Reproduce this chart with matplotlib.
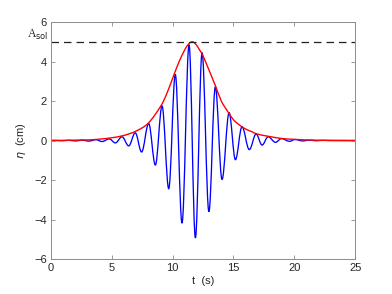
import matplotlib
matplotlib.use("Agg")
import matplotlib.pyplot as plt
from matplotlib.path import Path
from matplotlib.patches import PathPatch

# Blue free-surface signal: extrema (t in s, eta in cm)
wave_t = [0.0, 0.4, 0.9, 1.5, 2.0, 2.6, 3.1, 3.7, 4.2, 4.8, 5.29, 5.84, 6.39, 6.93,
          7.45, 8.03, 8.58, 9.13, 9.68, 10.22, 10.77, 11.35, 11.87, 12.42, 12.98,
          13.51, 14.06, 14.64, 15.16, 15.7, 16.3, 16.86, 17.35, 17.85, 18.45, 18.95,
          19.6, 20.05, 20.7, 21.2, 21.8, 22.3, 23.0, 25.0]
wave_eta = [0.0, 0.005, -0.01, 0.01, -0.02, 0.02, -0.03, 0.04, -0.05, 0.08, -0.12, 0.19,
            -0.27, 0.39, -0.58, 0.86, -1.24, 1.75, -2.44, 3.35, -4.18, 4.85, -4.93, 4.45,
            -3.6, 2.72, -1.97, 1.41, -0.97, 0.70, -0.46, 0.33, -0.23, 0.19, -0.09, 0.10,
            -0.04, 0.05, -0.02, 0.02, -0.01, 0.01, 0.0, 0.0]

# Red envelope
env_t = [0, 2, 3, 4, 5, 6, 7, 8, 9, 9.5, 10, 10.5, 11, 11.3, 11.6, 11.9, 12.2, 12.5,
         13, 13.5, 14, 14.5, 15, 15.5, 16, 16.5, 17, 18, 19, 20, 21, 22, 23, 25]
env_eta = [0.0, 0.02, 0.03, 0.07, 0.14, 0.26, 0.48, 0.88, 1.72, 2.35, 3.15, 3.95, 4.6,
           4.88, 5.0, 4.88, 4.6, 4.28, 3.55, 2.8, 2.0, 1.5, 1.05, 0.78, 0.58, 0.45,
           0.32, 0.2, 0.1, 0.06, 0.03, 0.015, 0.007, 0.0]

a_sol = 5.0
x_ticks = [0, 5, 10, 15, 20, 25]
y_ticks = [-6, -4, -2, 0, 2, 4, 6]


def extrema_path(xs, ys):
    """Smooth path through extrema: horizontal tangents at each point (Bezier)."""
    verts = [(xs[0], ys[0])]
    codes = [Path.MOVETO]
    for i in range(1, len(xs)):
        x0, y0, x1, y1 = xs[i - 1], ys[i - 1], xs[i], ys[i]
        h = (x1 - x0) * 0.36
        verts += [(x0 + h, y0), (x1 - h, y1), (x1, y1)]
        codes += [Path.CURVE4] * 3
    return Path(verts, codes)


def smooth_path(xs, ys):
    """Catmull-Rom style Bezier path through the points."""
    n = len(xs)
    verts = [(xs[0], ys[0])]
    codes = [Path.MOVETO]
    for i in range(n - 1):
        xp, yp = (xs[i - 1], ys[i - 1]) if i > 0 else (xs[i], ys[i])
        xn, yn = (xs[i + 2], ys[i + 2]) if i + 2 < n else (xs[i + 1], ys[i + 1])
        x0, y0, x1, y1 = xs[i], ys[i], xs[i + 1], ys[i + 1]
        c1 = (x0 + (x1 - xp) / 6, y0 + (y1 - yp) / 6)
        c2 = (x1 - (xn - x0) / 6, y1 - (yn - y0) / 6)
        verts += [c1, c2, (x1, y1)]
        codes += [Path.CURVE4] * 3
    return Path(verts, codes)


plt.rcParams['font.family'] = ['Liberation Sans', 'DejaVu Sans']
fig = plt.figure(figsize=(3.92, 2.94), dpi=100)
ax = fig.add_axes([0.130, 0.119, 0.776, 0.806])

ax.add_patch(PathPatch(extrema_path(wave_t, wave_eta), facecolor='none',
                       edgecolor='#0000ff', lw=0.95))
ax.add_patch(PathPatch(smooth_path(env_t, env_eta), facecolor='none',
                       edgecolor='#ff0000', lw=1.0))
ax.plot([x_ticks[0], x_ticks[-1]], [a_sol, a_sol], color='#202020', lw=0.9,
        dashes=(6, 4))

ax.set_xlim(0, 25)
ax.set_ylim(-6, 6)
ax.set_xticks(x_ticks)
ax.set_yticks(y_ticks)
ax.tick_params(direction='in', length=3, width=0.6, top=True, right=True,
               labelsize=8, colors='#8c8c8c', labelcolor='#262626', pad=3)
for s in ax.spines.values():
    s.set_color('#8c8c8c')
    s.set_linewidth(0.7)

ax.set_xlabel('t  (s)', fontsize=8, color='#262626', labelpad=2)
ax.set_ylabel(r'$\eta$  (cm)', fontsize=8, color='#262626', labelpad=4)
ax.text(-2.0, 5.22, r'A$_{\mathrm{sol}}$', fontsize=8.5, family='Liberation Serif',
        color='#262626', ha='left', va='baseline', clip_on=False)

fig.savefig('out.png', dpi=100)
